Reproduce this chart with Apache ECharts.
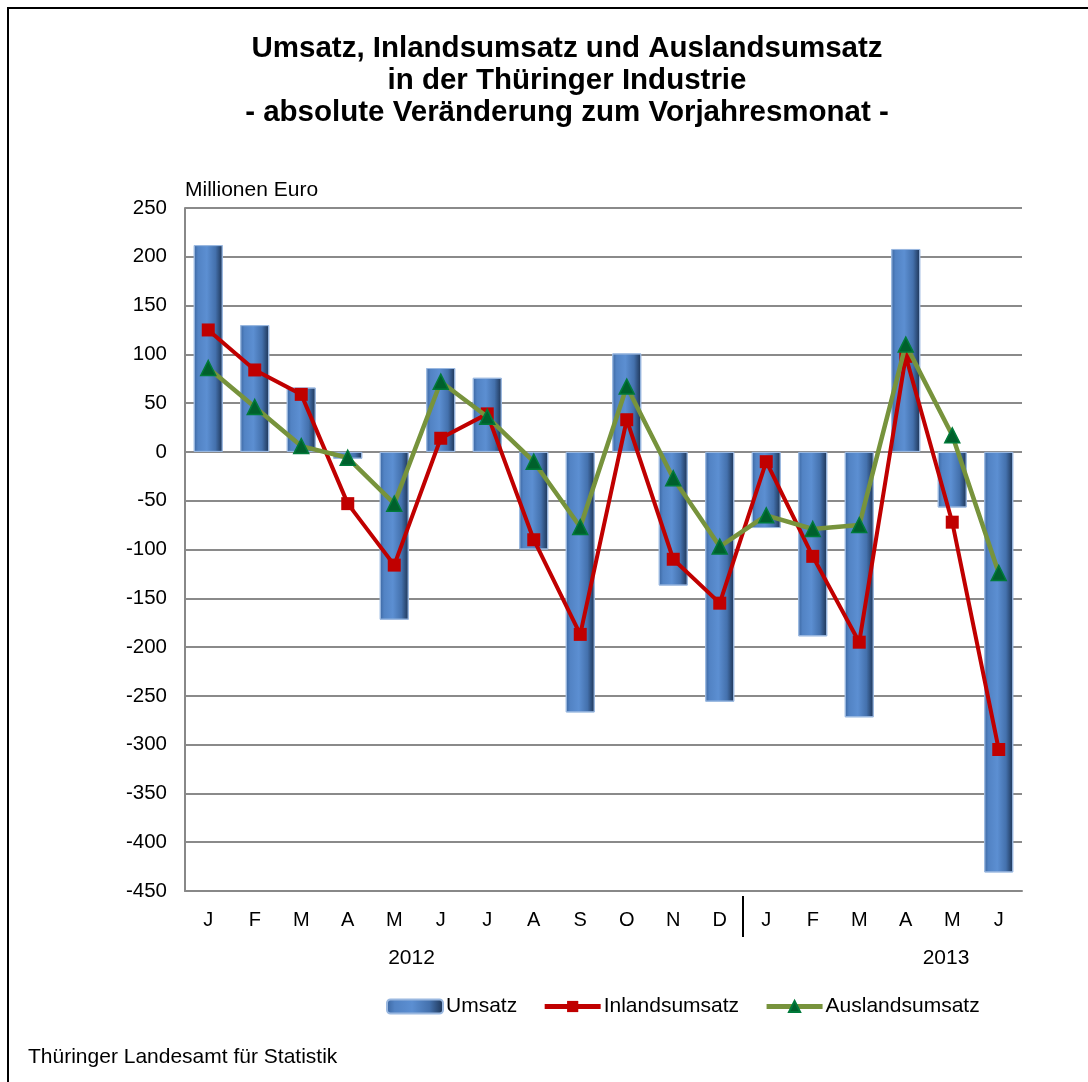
<!DOCTYPE html>
<html>
<head>
<meta charset="utf-8">
<script src="https://cdn.jsdelivr.net/npm/echarts@6/dist/echarts.min.js"></script>
<style>
html,body{margin:0;padding:0;background:#fff;}
#c{width:1088px;height:1082px;}
</style>
</head>
<body>
<div id="c"></div>
<script>
const months = ['J','F','M','A','M','J','J','A','S','O','N','D','J','F','M','A','M','J'];
const years = ['2012','2013'];
const umsatz = [212,130,66,-7,-172,86,76,-100,-267,101,-137,-256,-78,-189,-272,208,-57,-431];
const inland = [125,84,59,-53,-116,14,39,-90,-187,33,-110,-155,-10,-107,-195,98,-72,-305];
const ausland = [86,46,6,-6,-53,72,36,-10,-77,67,-27,-97,-65,-79,-75,110,17,-124];
const yTicks = {min:-450, max:250, step:50};

const FONT = '"Liberation Sans", Arial, sans-serif';
const chart = echarts.init(document.getElementById('c'));
const barGrad = new echarts.graphic.LinearGradient(0,0,1,0,[
  {offset:0, color:'#3b66a0'},
  {offset:0.15, color:'#5283c4'},
  {offset:0.45, color:'#5c8fd2'},
  {offset:0.75, color:'#4471ad'},
  {offset:1, color:'#1c3252'}
]);
const option = {
  animation:false,
  backgroundColor:'#fff',
  textStyle:{fontFamily:FONT},
  title:{
    text:'Umsatz, Inlandsumsatz und Auslandsumsatz\nin der Thüringer Industrie\n- absolute Veränderung zum Vorjahresmonat -',
    left:567, top:33, textAlign:'center', padding:0,
    textStyle:{fontFamily:FONT, fontSize:29.5, fontWeight:'bold', color:'#000', lineHeight:32}
  },
  grid:{left:185, right:66, top:208, bottom:191, containLabel:false},
  legend:{
    left:386, top:996, padding:0, itemGap:25, itemWidth:56, itemHeight:14,
    lineStyle:{width:5},
    textStyle:{fontFamily:FONT, fontSize:21, color:'#000', padding:[0,0,0,-2]},
    data:['Umsatz','Inlandsumsatz','Auslandsumsatz']
  },
  xAxis:{
    type:'category', data:months,
    axisLine:{onZero:false, lineStyle:{color:'#888', width:2}},
    axisTick:{show:false},
    axisLabel:{fontFamily:FONT, fontSize:20, color:'#000', margin:19, interval:0}
  },
  yAxis:{
    type:'value', min:yTicks.min, max:yTicks.max, interval:yTicks.step,
    name:'Millionen Euro', nameLocation:'end', nameGap:7,
    nameTextStyle:{fontFamily:FONT, fontSize:21, color:'#000', align:'left', padding:[0,0,0,0]},
    axisLine:{show:true, lineStyle:{color:'#888', width:2}},
    axisTick:{show:false},
    splitLine:{lineStyle:{color:'#8a8a8a', width:2}},
    axisLabel:{fontFamily:FONT, fontSize:20.5, color:'#000', margin:18}
  },
  series:[
    {name:'Umsatz', type:'bar', data:umsatz, barWidth:29,
     itemStyle:{color:barGrad, borderColor:'#9ab8e0', borderWidth:1}, z:2},
    {name:'Inlandsumsatz', type:'line', data:inland, symbol:'rect', symbolSize:13,
     lineStyle:{color:'#c00000', width:4}, itemStyle:{color:'#c00000'}, z:3},
    {name:'Auslandsumsatz', type:'line', data:ausland, symbol:'triangle', symbolSize:15,
     lineStyle:{color:'#77933c', width:4.5}, itemStyle:{color:'#00602c', borderColor:'#007a3a', borderWidth:1.5}, z:4}
  ],
  graphic:[]
};
chart.setOption(option);

const px = i => chart.convertToPixel({xAxisIndex:0}, i);
const yBottom = chart.convertToPixel({yAxisIndex:0}, yTicks.min);
const sepX = (px(11)+px(12))/2;
chart.setOption({graphic:[
  {type:'rect', shape:{x:8, y:8, width:1100, height:1100}, style:{fill:'none', stroke:'#000', lineWidth:2}, silent:true},
  {type:'line', shape:{x1:sepX, y1:yBottom+5, x2:sepX, y2:yBottom+46}, style:{stroke:'#000', lineWidth:2}},
  {type:'text', x:(px(4)+px(5))/2-6, y:958, style:{text:years[0], font:'21px '+FONT, fill:'#000', align:'center', verticalAlign:'middle'}},
  {type:'text', x:(px(15)+px(16))/2+17, y:958, style:{text:years[1], font:'21px '+FONT, fill:'#000', align:'center', verticalAlign:'middle'}},
  {type:'text', x:28, y:1057, style:{text:'Thüringer Landesamt für Statistik', font:'21px '+FONT, fill:'#000', align:'left', verticalAlign:'middle'}}
]});
</script>
</body>
</html>
